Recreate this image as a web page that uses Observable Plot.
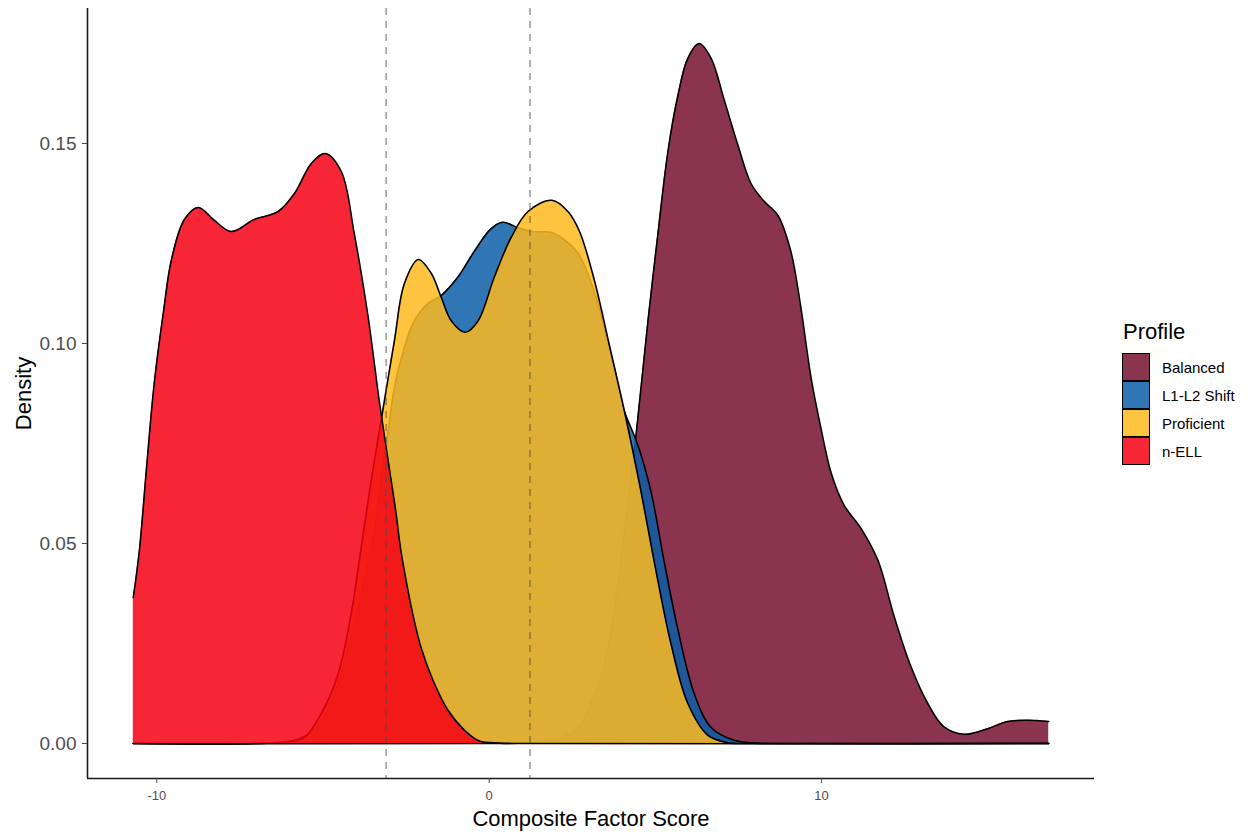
<!DOCTYPE html>
<html><head><meta charset="utf-8">
<script src="https://cdn.jsdelivr.net/npm/d3@7"></script>
<script src="https://cdn.jsdelivr.net/npm/@observablehq/plot@0.6"></script>
<style>
body{margin:0;background:#fff;}
#wrap{position:relative;width:1251px;height:832px;font-family:"Liberation Sans",Arial,Helvetica,sans-serif;}
#wrap svg{position:absolute;left:0;top:0;}
#legend{position:absolute;left:1122px;top:319px;}
#legend .ttl{font-size:22px;line-height:26px;color:#000;margin-left:1px;height:34px;}
#legend .row{display:flex;align-items:center;height:28px;}
#legend .sw{width:28px;height:28px;box-sizing:border-box;border:1.5px solid #000;}
#legend .lab{font-size:15px;margin-left:12px;color:#000;}
</style></head><body><div id="wrap"></div>
<script>
// ---- data ----
const profiles = ["Balanced", "L1-L2 Shift", "Proficient", "n-ELL"];
const fills = ["#771030", "#0C5EA7", "#FEBA1E", "#F40013"];

const balancedX = [-10.71, 0, 1.5, 2.2, 2.68, 3.37, 3.7, 4.0, 4.2, 4.42, 4.78, 5.08, 5.38, 5.68, 5.98, 6.32, 6.68, 7.07, 7.49, 7.88, 8.27, 8.69, 9.08, 9.38, 9.68, 9.98, 10.29, 10.68, 11.19, 11.7, 12.18, 12.69, 13.2, 13.68, 14.29, 15.0, 15.6, 16.2, 16.84];
const balancedY = [0, 0, 0.0003, 0.0015, 0.004, 0.017, 0.030, 0.048, 0.062, 0.077, 0.1057, 0.1275, 0.148, 0.162, 0.1713, 0.175, 0.1713, 0.161, 0.1495, 0.140, 0.1356, 0.132, 0.123, 0.109, 0.0918, 0.079, 0.0677, 0.0596, 0.0538, 0.0458, 0.032, 0.0193, 0.010, 0.0042, 0.0023, 0.0037, 0.0055, 0.0058, 0.0055];

const shiftX = [-10.71, -7, -6, -5.5, -5, -4.5, -4, -3.46, -3.25, -3.04, -2.85, -2.55, -2.25, -1.84, -1.44, -0.94, -0.45, 0.06, 0.41, 0.86, 1.3, 1.86, 2.17, 2.68, 3.16, 3.76, 4.03, 4.48, 4.87, 5.26, 5.68, 6.17, 6.68, 7.37, 8, 9, 16.84];
const shiftY = [0, 0, 0.0005, 0.002, 0.006, 0.016, 0.032, 0.053, 0.066, 0.078, 0.089, 0.099, 0.1057, 0.110, 0.112, 0.1166, 0.123, 0.1287, 0.1303, 0.129, 0.128, 0.1278, 0.1265, 0.1225, 0.113, 0.094, 0.084, 0.0745, 0.063, 0.0458, 0.0285, 0.0125, 0.004, 0.0008, 0.0001, 0, 0];

const proficientX = [-10.71, -7, -6, -5.56, -5.05, -4.54, -4.15, -3.85, -3.55, -3.2, -2.85, -2.55, -2.13, -1.74, -1.44, -1.14, -0.72, -0.33, 0.15, 0.66, 1.17, 1.89, 2.37, 2.72, 3.16, 3.62, 4.06, 4.57, 4.96, 5.47, 5.98, 6.59, 7.2, 8, 16.84];
const proficientY = [0, 0, 0.0005, 0.0015, 0.0075, 0.0175, 0.0325, 0.049, 0.0658, 0.0833, 0.1008, 0.115, 0.121, 0.1175, 0.1115, 0.1057, 0.1028, 0.1057, 0.1165, 0.1265, 0.133, 0.1358, 0.133, 0.128, 0.116, 0.0995, 0.0835, 0.063, 0.0458, 0.025, 0.010, 0.002, 0.0002, 0, 0];

const nellX = [-10.71, -10.53, -10.3, -10.08, -9.8, -9.56, -9.17, -8.75, -8.3, -7.76, -7.07, -6.35, -5.86, -5.35, -4.93, -4.45, -4.06, -3.64, -3.31, -3.10, -2.95, -2.80, -2.67, -2.50, -2.30, -2.05, -1.69, -1.24, -0.74, -0.29, 0.3, 1, 16.84];
const nellY = [0.0365, 0.048, 0.070, 0.090, 0.108, 0.121, 0.131, 0.134, 0.131, 0.128, 0.131, 0.133, 0.1375, 0.145, 0.1475, 0.143, 0.1275, 0.1065, 0.0858, 0.074, 0.0658, 0.0574, 0.049, 0.0408, 0.0324, 0.024, 0.0158, 0.0083, 0.0033, 0.0006, 0.0001, 0, 0];

const cutoffs = [-3.1, 1.23];
const xTicks = [-10, 0, 10];
const yTicks = [0, 0.05, 0.10, 0.15];

// ---- build ----
const seriesX = [balancedX, shiftX, proficientX, nellX];
const seriesY = [balancedY, shiftY, proficientY, nellY];
const series = profiles.map((p, i) => seriesX[i].map((x, j) => ({profile: p, x, y: seriesY[i][j]})));

const allX = seriesX.flat(), allY = seriesY.flat();
const x0 = d3.min(allX), x1 = d3.max(allX);
const y0 = 0, y1 = d3.max(allY);
const xDom = [x0 - 0.05 * (x1 - x0), x1 + 0.05 * (x1 - x0)];
const yDom = [y0 - 0.05 * (y1 - y0), y1 + 0.05 * (y1 - y0)];

const fam = '"Liberation Sans", Arial, Helvetica, sans-serif';
const marks = [];
series.forEach((d, i) => {
  marks.push(Plot.areaY(d, {x: "x", y: "y", fill: fills[i], fillOpacity: 0.85, curve: "catmull-rom"}));
  marks.push(Plot.lineY(d, {x: "x", y: "y", stroke: "#000", strokeWidth: 1.6, curve: "catmull-rom"}));
});
marks.push(Plot.ruleX(cutoffs, {stroke: "#4d4d4d", strokeOpacity: 0.55, strokeWidth: 1.6, strokeDasharray: "7,6"}));
marks.push(Plot.ruleY([yDom[0]], {stroke: "#1a1a1a", strokeWidth: 1.6}));
marks.push(Plot.ruleX([xDom[0]], {stroke: "#1a1a1a", strokeWidth: 1.6}));
marks.push(Plot.axisX({ticks: xTicks, tickFormat: d => String(d), tickSize: 5, tickPadding: 7, fontSize: 13, color: "#4d4d4d", label: null}));
marks.push(Plot.axisY({ticks: yTicks, tickFormat: d3.format(".2f"), tickSize: 5, tickPadding: 6, fontSize: 19, color: "#4d4d4d", label: null}));
marks.push(Plot.text(["Composite Factor Score"], {text: d => d, frameAnchor: "bottom", dy: 40, fontSize: 22, fill: "#000", lineAnchor: "middle", textAnchor: "middle"}));
marks.push(Plot.text(["Density"], {text: d => d, frameAnchor: "left", dx: -64, rotate: -90, fontSize: 22, fill: "#000", lineAnchor: "middle", textAnchor: "middle"}));

const chart = Plot.plot({
  width: 1251, height: 832,
  marginLeft: 87, marginRight: 157, marginTop: 8, marginBottom: 54,
  style: {fontFamily: fam, background: "white", overflow: "visible"},
  x: {domain: xDom},
  y: {domain: yDom},
  marks
});
const wrap = document.getElementById("wrap");
wrap.appendChild(chart);

// legend
const leg = document.createElement("div");
leg.id = "legend";
const ttl = document.createElement("div");
ttl.className = "ttl"; ttl.textContent = "Profile";
leg.appendChild(ttl);
profiles.forEach((p, i) => {
  const row = document.createElement("div"); row.className = "row";
  const sw = document.createElement("div"); sw.className = "sw";
  sw.style.background = d3.color(fills[i]).copy({opacity: 0.85}).formatRgb();
  const lab = document.createElement("div"); lab.className = "lab"; lab.textContent = p;
  row.appendChild(sw); row.appendChild(lab); leg.appendChild(row);
});
wrap.appendChild(leg);
</script></body></html>
